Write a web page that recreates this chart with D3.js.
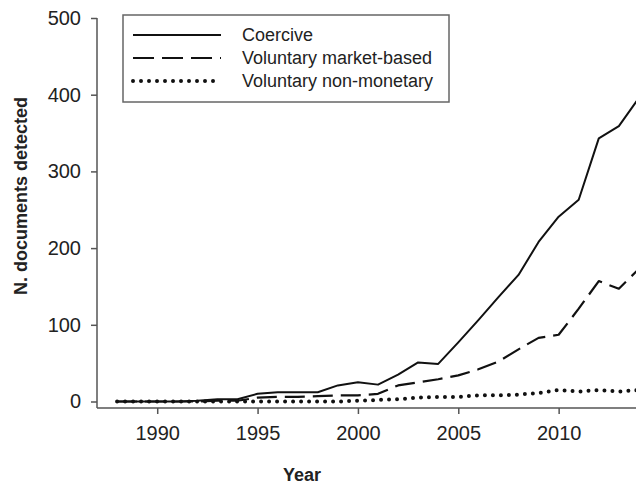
<!DOCTYPE html>
<html>
<head>
<meta charset="utf-8">
<script src="https://cdn.jsdelivr.net/npm/d3@7"></script>
<style>
  body { margin: 0; background: #fff; }
  text { font-family: "Liberation Sans", Arial, sans-serif; fill: #222; }
</style>
</head>
<body>
<div id="chart"></div>
<script>
/* Documents detected per year, by instrument type */

const years = d3.range(1988, 2015);
const coercive = [0, 0, 0, 0, 1, 3, 3, 10, 12, 12, 12, 21, 25, 22, 35, 51, 49, 77, 106, 136, 165, 208, 241, 263, 343, 359, 396];
const marketBased = [0, 0, 0, 0, 0, 1, 1, 5, 6, 6, 7, 8, 8, 10, 21, 25, 29, 34, 42, 52, 68, 83, 87, 121, 157, 147, 173];
const nonMonetary = [0, 0, 0, 0, 0, 0, 0, 0, 0, 0, 0, 0, 1, 2, 3, 5, 6, 6, 8, 8, 9, 11, 15, 13, 15, 13, 15];
const seriesNames = ["Coercive", "Voluntary market-based", "Voluntary non-monetary"];
const xTicks = [1990, 1995, 2000, 2005, 2010];
const yTicks = [0, 100, 200, 300, 400, 500];

const width = 636, height = 485;
const axisColor = "#555";

const svg = d3.select("#chart")
    .append("svg")
    .attr("width", width)
    .attr("height", height);

const x = d3.scaleLinear()
    .domain([1987, 2015])
    .range([97, 659]);

const y = d3.scaleLinear()
    .domain([0, 500])
    .range([401.5, 18]);

const axisY0 = 408;

// x axis
const gx = svg.append("g")
    .attr("transform", `translate(0,${axisY0})`)
    .call(d3.axisBottom(x).tickValues(xTicks).tickFormat(d3.format("d")).tickSize(6).tickPadding(12));
gx.select(".domain").remove();
gx.selectAll(".tick line").attr("stroke", axisColor).attr("stroke-width", 1.5);
gx.selectAll(".tick text").attr("font-size", 20).style("font-family", "Liberation Sans, Arial");
gx.append("line")
    .attr("x1", x(1987)).attr("x2", x(2015))
    .attr("stroke", axisColor).attr("stroke-width", 1.5);

// y axis
const gy = svg.append("g")
    .attr("transform", `translate(${x(1987)},0)`)
    .call(d3.axisLeft(y).tickValues(yTicks).tickSize(6).tickPadding(10));
gy.select(".domain").remove();
gy.selectAll(".tick line").attr("stroke", axisColor).attr("stroke-width", 1.5);
gy.selectAll(".tick text").attr("font-size", 20).style("font-family", "Liberation Sans, Arial");
gy.append("line")
    .attr("y1", y(500)).attr("y2", axisY0)
    .attr("stroke", axisColor).attr("stroke-width", 1.5);

// titles
svg.append("text")
    .attr("x", 302)
    .attr("y", 481)
    .attr("text-anchor", "middle")
    .attr("font-size", 18)
    .attr("font-weight", "bold")
    .text("Year");

svg.append("text")
    .attr("transform", "translate(27,196) rotate(-90)")
    .attr("text-anchor", "middle")
    .attr("font-size", 18)
    .attr("font-weight", "bold")
    .text("N. documents detected");

// lines
const styles = [
    { data: coercive, width: 2, dash: null, cap: "butt" },
    { data: marketBased, width: 2.2, dash: "20,8", cap: "butt" },
    { data: nonMonetary, width: 4, dash: "0,8", cap: "round" }
];

const line = d3.line()
    .x((d, i) => x(years[i]))
    .y(d => y(d));

svg.selectAll(".series")
    .data(styles)
    .join("path")
    .attr("class", "series")
    .attr("fill", "none")
    .attr("stroke", "#111")
    .attr("stroke-width", d => d.width)
    .attr("stroke-dasharray", d => d.dash)
    .attr("stroke-linecap", d => d.cap)
    .attr("stroke-linejoin", "round")
    .attr("d", d => line(d.data));

// legend
const legend = svg.append("g");
legend.append("rect")
    .attr("x", 123).attr("y", 15)
    .attr("width", 326).attr("height", 87)
    .attr("fill", "#fff")
    .attr("stroke", "#666")
    .attr("stroke-width", 1.5);

const item = legend.selectAll(".item")
    .data(styles)
    .join("g")
    .attr("class", "item")
    .attr("transform", (d, i) => `translate(0,${35 + i * 23})`);

item.append("line")
    .attr("x1", 133).attr("x2", 221)
    .attr("stroke", "#111")
    .attr("stroke-width", d => d.width)
    .attr("stroke-dasharray", d => d.dash === "20,8" ? "21,8" : d.dash)
    .attr("stroke-linecap", d => d.cap);

item.append("text")
    .attr("x", 242)
    .attr("y", 6)
    .attr("font-size", 18)
    .text((d, i) => seriesNames[i]);
</script>
</body>
</html>
